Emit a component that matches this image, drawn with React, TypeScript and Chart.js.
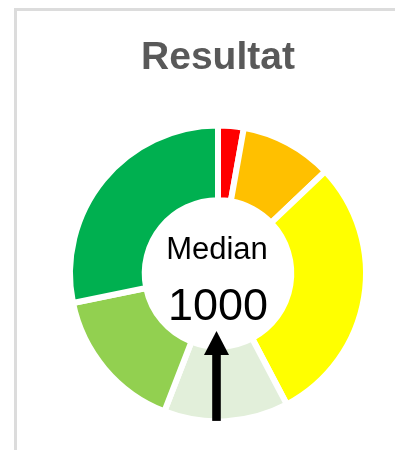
import React, { useEffect, useRef } from "react";
import { Chart, registerables } from "chart.js";

Chart.register(...registerables);

const chartTitle = "Resultat";
const categories = ["Rød", "Orange", "Gul", "Lysegrøn", "Grøn", "Mørkegrøn"];
const shares = [2.8, 10.1, 29.4, 13.6, 15.9, 28.2];
const sliceColors = ["#FF0000", "#FFC000", "#FFFF00", "#E2EFDA", "#92D050", "#00B050"];
const medianLabel = "Median";
const medianValue = 1000;

const FONT = "'Liberation Sans', Arial, Helvetica, sans-serif";

const centerPlugin = {
  id: "centerText",
  afterDatasetsDraw(chart: any) {
    const meta = chart.getDatasetMeta(0);
    const arc = meta.data[0];
    if (!arc) return;
    const { x, y } = arc.getProps(["x", "y"], true);
    const ctx = chart.ctx;
    ctx.save();
    ctx.fillStyle = "#000000";
    ctx.textAlign = "center";
    ctx.textBaseline = "alphabetic";
    ctx.font = `31px ${FONT}`;
    ctx.fillText(medianLabel, x - 1, y - 14.5);
    ctx.font = `45px ${FONT}`;
    ctx.fillText(String(medianValue), x, y + 46.5);

    // arrow
    const ax = x - 1.5;
    const tipY = y + 57.5;
    const baseY = y + 81.5;
    const bottomY = y + 147.5;
    ctx.fillStyle = "#000000";
    ctx.fillRect(ax - 4.3, baseY - 1, 8.6, bottomY - baseY + 1);
    ctx.beginPath();
    ctx.moveTo(ax, tipY);
    ctx.lineTo(ax + 12.5, baseY);
    ctx.lineTo(ax - 12.5, baseY);
    ctx.closePath();
    ctx.fill();
    ctx.restore();
  },
};

export default function App() {
  const ref = useRef<HTMLCanvasElement | null>(null);

  useEffect(() => {
    if (!ref.current) return;
    const chart = new Chart(ref.current, {
      type: "doughnut",
      data: {
        labels: categories,
        datasets: [
          {
            data: shares,
            backgroundColor: sliceColors,
            borderColor: "#ffffff",
            borderWidth: 6,
            radius: 148,
          },
        ],
      },
      options: {
        responsive: false,
        animation: false,
        devicePixelRatio: 1,
        cutout: "49.5%",
        layout: { padding: 0 },
        plugins: {
          legend: { display: false },
          tooltip: { enabled: false },
          title: {
            display: true,
            text: chartTitle,
            color: "#595959",
            font: { family: FONT, size: 39, weight: "bold" },
            padding: { top: 24, bottom: 7 },
          },
        },
      },
      plugins: [centerPlugin],
    });
    return () => chart.destroy();
  }, []);

  return (
    <div
      style={{
        marginLeft: 6,
        width: 386,
        height: 439,
        borderTop: "3px solid #dcdcdc",
        borderLeft: "3px solid #dcdcdc",
        overflow: "hidden",
        background: "#ffffff",
      }}
    >
      <canvas ref={ref} width={402} height={447} style={{ display: "block" }} />
    </div>
  );
}
